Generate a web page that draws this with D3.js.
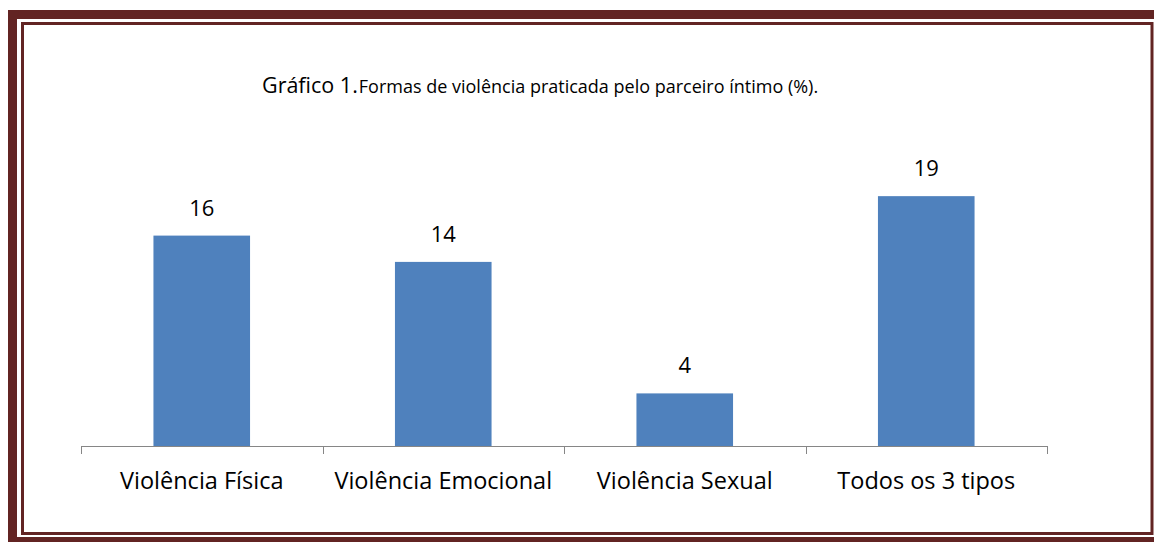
<!DOCTYPE html>
<html>
<head>
<meta charset="utf-8">
<script src="https://cdn.jsdelivr.net/npm/d3@7"></script>
<style>
  html, body { margin: 0; padding: 0; background: #fff; }
  svg { display: block; font-family: "Open Sans", sans-serif; }
</style>
</head>
<body>
<div class="container"></div>
<script>
const categories = ["Violência Física", "Violência Emocional", "Violência Sexual", "Todos os 3 tipos"];
const values = [16, 14, 4, 19];
const titleLead = "Gráfico 1.";
const titleRest = "Formas de violência praticada pelo parceiro íntimo (%).";

const width = 1154, height = 542;
const frameColor = "#622423";

const svg = d3.select(".container")
    .append("svg")
        .attr("width", width)
        .attr("height", height);

// double frame: thick outer band, thin inner line
svg.append("rect")
    .attr("x", 12.5).attr("y", 14.5)
    .attr("width", 1160).attr("height", 527)
    .attr("fill", "none")
    .attr("stroke", frameColor)
    .attr("stroke-width", 9);

svg.append("rect")
    .attr("x", 22.5).attr("y", 23.5)
    .attr("width", 1129.5).attr("height", 510)
    .attr("fill", "none")
    .attr("stroke", frameColor)
    .attr("stroke-width", 3);

const x = d3.scaleBand()
    .domain(categories)
    .range([81, 1047])
    .paddingInner(0.6)
    .paddingOuter(0.3);

const y = d3.scaleLinear()
    .domain([0, 20])
    .range([446, 183]);

// title
const title = svg.append("text")
    .attr("x", 262)
    .attr("y", 93)
    .attr("fill", "#000");
title.append("tspan").attr("font-size", 21.5).text(titleLead);
title.append("tspan").attr("font-size", 18).attr("dx", 1).text(titleRest);

// bars
svg.append("g")
    .selectAll("rect")
    .data(values)
    .join("rect")
        .attr("x", (d, i) => x(categories[i]))
        .attr("y", d => y(d))
        .attr("width", x.bandwidth())
        .attr("height", d => y(0) - y(d))
        .attr("fill", "#4f81bd");

// value labels
svg.append("g")
    .selectAll("text")
    .data(values)
    .join("text")
        .attr("x", (d, i) => x(categories[i]) + x.bandwidth() / 2)
        .attr("y", d => y(d) - 20)
        .attr("text-anchor", "middle")
        .attr("font-size", 22)
        .attr("fill", "#000")
        .text(d => d);

// category axis, ticks between categories
const axisY = y(0);
const axis = svg.append("g");
axis.append("line")
    .attr("x1", 81).attr("x2", 1047)
    .attr("y1", axisY + 0.5).attr("y2", axisY + 0.5)
    .attr("stroke", "#868686");

const tickXs = categories.map(c => x(c) - x.step() * x.paddingInner() / 2 - (c === categories[0] ? x.step() * (x.paddingOuter() - x.paddingInner() / 2) : 0));
tickXs.push(1047);
axis.selectAll(".tick")
    .data(tickXs)
    .join("line")
        .attr("class", "tick")
        .attr("x1", d => Math.round(d) + 0.5).attr("x2", d => Math.round(d) + 0.5)
        .attr("y1", axisY).attr("y2", axisY + 8)
        .attr("stroke", "#868686");

axis.selectAll(".label")
    .data(categories)
    .join("text")
        .attr("class", "label")
        .attr("x", d => x(d) + x.bandwidth() / 2)
        .attr("y", 489)
        .attr("text-anchor", "middle")
        .attr("font-size", 23.5)
        .attr("fill", "#000")
        .text(d => d);
</script>
</body>
</html>
